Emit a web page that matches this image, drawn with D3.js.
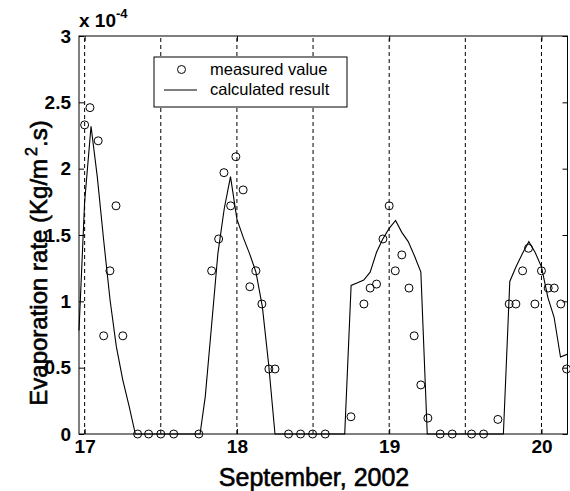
<!DOCTYPE html>
<html>
<head>
<meta charset="utf-8">
<script src="https://cdn.jsdelivr.net/npm/d3@7"></script>
<style>
  body { margin: 0; background: #fff; }
  svg { display: block; font-family: "Liberation Sans", Arial, sans-serif; }
</style>
</head>
<body>
<div id="chart"></div>
<script>
// measured evaporation rate (x 1e-4 Kg/m2.s), day of September 2002
var measDays = [17.0, 17.035, 17.089, 17.125, 17.166, 17.206, 17.251,
  17.348, 17.42, 17.5, 17.585, 17.75,
  17.834, 17.88, 17.915, 17.959, 17.993, 18.041, 18.085, 18.125, 18.164, 18.21, 18.25,
  18.339, 18.418, 18.497, 18.58,
  18.749, 18.834, 18.875, 18.917, 18.959, 19.0, 19.04, 19.083, 19.13, 19.164, 19.208, 19.254,
  19.335, 19.414, 19.541, 19.62,
  19.714, 19.788, 19.832, 19.876, 19.915, 19.957, 20.0, 20.044, 20.084, 20.127, 20.165];
var measVals = [2.33, 2.46, 2.21, 0.74, 1.23, 1.72, 0.74,
  0, 0, 0, 0, 0,
  1.23, 1.47, 1.97, 1.72, 2.09, 1.84, 1.11, 1.23, 0.98, 0.49, 0.49,
  0, 0, 0, 0,
  0.13, 0.98, 1.10, 1.13, 1.47, 1.72, 1.23, 1.35, 1.10, 0.74, 0.37, 0.12,
  0, 0, 0, 0,
  0.11, 0.98, 0.98, 1.23, 1.40, 0.98, 1.23, 1.10, 1.10, 0.98, 0.49];

// calculated result
var calcDays = [16.963, 17.0, 17.042, 17.083, 17.125, 17.167, 17.208, 17.25, 17.292, 17.333,
  17.5, 17.758,
  17.792, 17.833, 17.875, 17.917, 17.958, 18.0, 18.042, 18.083, 18.125, 18.167, 18.208, 18.25,
  18.5, 18.708,
  18.75, 18.792, 18.833, 18.875, 18.917, 18.958, 19.0, 19.042, 19.083, 19.125, 19.167, 19.208, 19.25,
  19.5, 19.75,
  19.792, 19.833, 19.875, 19.917, 19.958, 20.0, 20.042, 20.083, 20.125, 20.167, 20.171];
var calcVals = [0.78, 1.75, 2.32, 1.94, 1.46, 1.01, 0.66, 0.41, 0.21, 0,
  0, 0,
  0.28, 0.81, 1.36, 1.70, 1.94, 1.62, 1.48, 1.36, 1.22, 0.96, 0.53, 0,
  0, 0,
  1.12, 1.14, 1.16, 1.22, 1.37, 1.47, 1.55, 1.61, 1.52, 1.45, 1.34, 1.22, 0,
  0, 0,
  1.15, 1.26, 1.36, 1.45, 1.37, 1.26, 1.03, 0.88, 0.58, 0.60, 0.60];

var xTicks = [17, 18, 19, 20];
var gridDays = [17, 17.5, 18, 18.5, 19, 19.5, 20];
var yTicks = [0, 0.5, 1, 1.5, 2, 2.5, 3];
var yTickLabels = ["0", "0.5", "1", "1.5", "2", "2.5", "3"];
var legendLabels = ["measured value", "calculated result"];

var width = 570, height = 491,
    margin = {top: 36, right: 2.5, bottom: 57, left: 79};

var svg = d3.select("#chart").append("svg")
    .attr("width", width)
    .attr("height", height);

var x = d3.scaleLinear().domain([16.963, 20.171]).range([margin.left, width - margin.right]);
var y = d3.scaleLinear().domain([0, 3]).range([height - margin.bottom, margin.top]);

//dashed day/half-day lines
svg.append("g")
  .selectAll("line")
  .data(gridDays)
  .enter()
  .append("line")
    .attr("x1", function(d){ return x(d); })
    .attr("x2", function(d){ return x(d); })
    .attr("y1", y(0))
    .attr("y2", y(3))
    .attr("stroke", "#000")
    .attr("stroke-width", 1)
    .attr("stroke-dasharray", "4,3");

//calculated line
var line = d3.line()
    .x(function(d, i){ return x(calcDays[i]); })
    .y(function(d){ return y(d); });

svg.append("path")
    .datum(calcVals)
    .attr("fill", "none")
    .attr("stroke", "#000")
    .attr("stroke-width", 1.1)
    .attr("d", line);

//measured circles
svg.append("g")
  .selectAll("circle")
  .data(measVals)
  .enter()
  .append("circle")
    .attr("cx", function(d, i){ return x(measDays[i]); })
    .attr("cy", function(d){ return y(d); })
    .attr("r", 4)
    .attr("fill", "none")
    .attr("stroke", "#000")
    .attr("stroke-width", 1);

//axes
var yAxisL = d3.axisLeft(y).tickValues(yTicks).tickSize(-5).tickPadding(8)
    .tickFormat(function(d, i){ return yTickLabels[i]; });
var yAxisR = d3.axisRight(y).tickValues(yTicks).tickSize(-5).tickFormat("");
var xAxisB = d3.axisBottom(x).tickValues(xTicks).tickSize(-5).tickPadding(6)
    .tickFormat(d3.format("d"));
var xAxisT = d3.axisTop(x).tickValues(xTicks).tickSize(-5).tickFormat("");

function styleAxis(g){
  g.select(".domain").remove();
  g.selectAll("line").attr("stroke", "#000");
  g.selectAll("text")
    .attr("fill", "#000")
    .style("font-size", "19px")
    .style("font-weight", "bold")
    .style("font-family", "'Liberation Sans', Arial, sans-serif");
}

svg.append("g").attr("transform", "translate(" + margin.left + ",0)").call(yAxisL).call(styleAxis);
svg.append("g").attr("transform", "translate(" + (width - margin.right) + ",0)").call(yAxisR).call(styleAxis);
svg.append("g").attr("transform", "translate(0," + y(0) + ")").call(xAxisB).call(styleAxis);
svg.append("g").attr("transform", "translate(0," + y(3) + ")").call(xAxisT).call(styleAxis);

//box
svg.append("rect")
    .attr("x", margin.left)
    .attr("y", margin.top)
    .attr("width", width - margin.right - margin.left)
    .attr("height", height - margin.bottom - margin.top)
    .attr("fill", "none")
    .attr("stroke", "#000")
    .attr("stroke-width", 1);

//exponent
var expo = svg.append("text")
    .attr("x", 79)
    .attr("y", 27)
    .style("font-size", "19px")
    .style("font-weight", "bold");
expo.append("tspan").text("x 10");
expo.append("tspan").attr("dy", -9).style("font-size", "13px").text("-4");

//axis titles (slightly heavier than regular)
svg.append("text")
    .attr("x", x(18.5) + 1)
    .attr("y", 486)
    .attr("text-anchor", "middle")
    .attr("stroke", "#000")
    .attr("stroke-width", 0.6)
    .style("font-size", "25px")
    .text("September, 2002");

var ylab = svg.append("text")
    .attr("transform", "translate(47,263) rotate(-90)")
    .attr("text-anchor", "middle")
    .attr("stroke", "#000")
    .attr("stroke-width", 0.6)
    .style("font-size", "24px");
ylab.append("tspan").text("Evaporation rate (Kg/m");
ylab.append("tspan").attr("dy", -10).attr("dx", 3).style("font-size", "16px").text("2");
ylab.append("tspan").attr("dy", 10).text(".s)");

//legend
var legend = svg.append("g");
legend.append("rect")
    .attr("x", 154)
    .attr("y", 57)
    .attr("width", 193)
    .attr("height", 50)
    .attr("fill", "#fff")
    .attr("stroke", "#000")
    .attr("stroke-width", 1);
legend.append("circle")
    .attr("cx", 181.5)
    .attr("cy", 69.5)
    .attr("r", 4)
    .attr("fill", "none")
    .attr("stroke", "#000");
legend.append("line")
    .attr("x1", 164)
    .attr("x2", 197)
    .attr("y1", 90)
    .attr("y2", 90)
    .attr("stroke", "#000")
    .attr("stroke-width", 1.1);
legend.selectAll("text.lg")
  .data(legendLabels)
  .enter()
  .append("text")
    .attr("class", "lg")
    .attr("x", 210)
    .attr("y", function(d, i){ return 75 + i * 20; })
    .style("font-size", "16.5px")
    .text(function(d){ return d; });
</script>
</body>
</html>
